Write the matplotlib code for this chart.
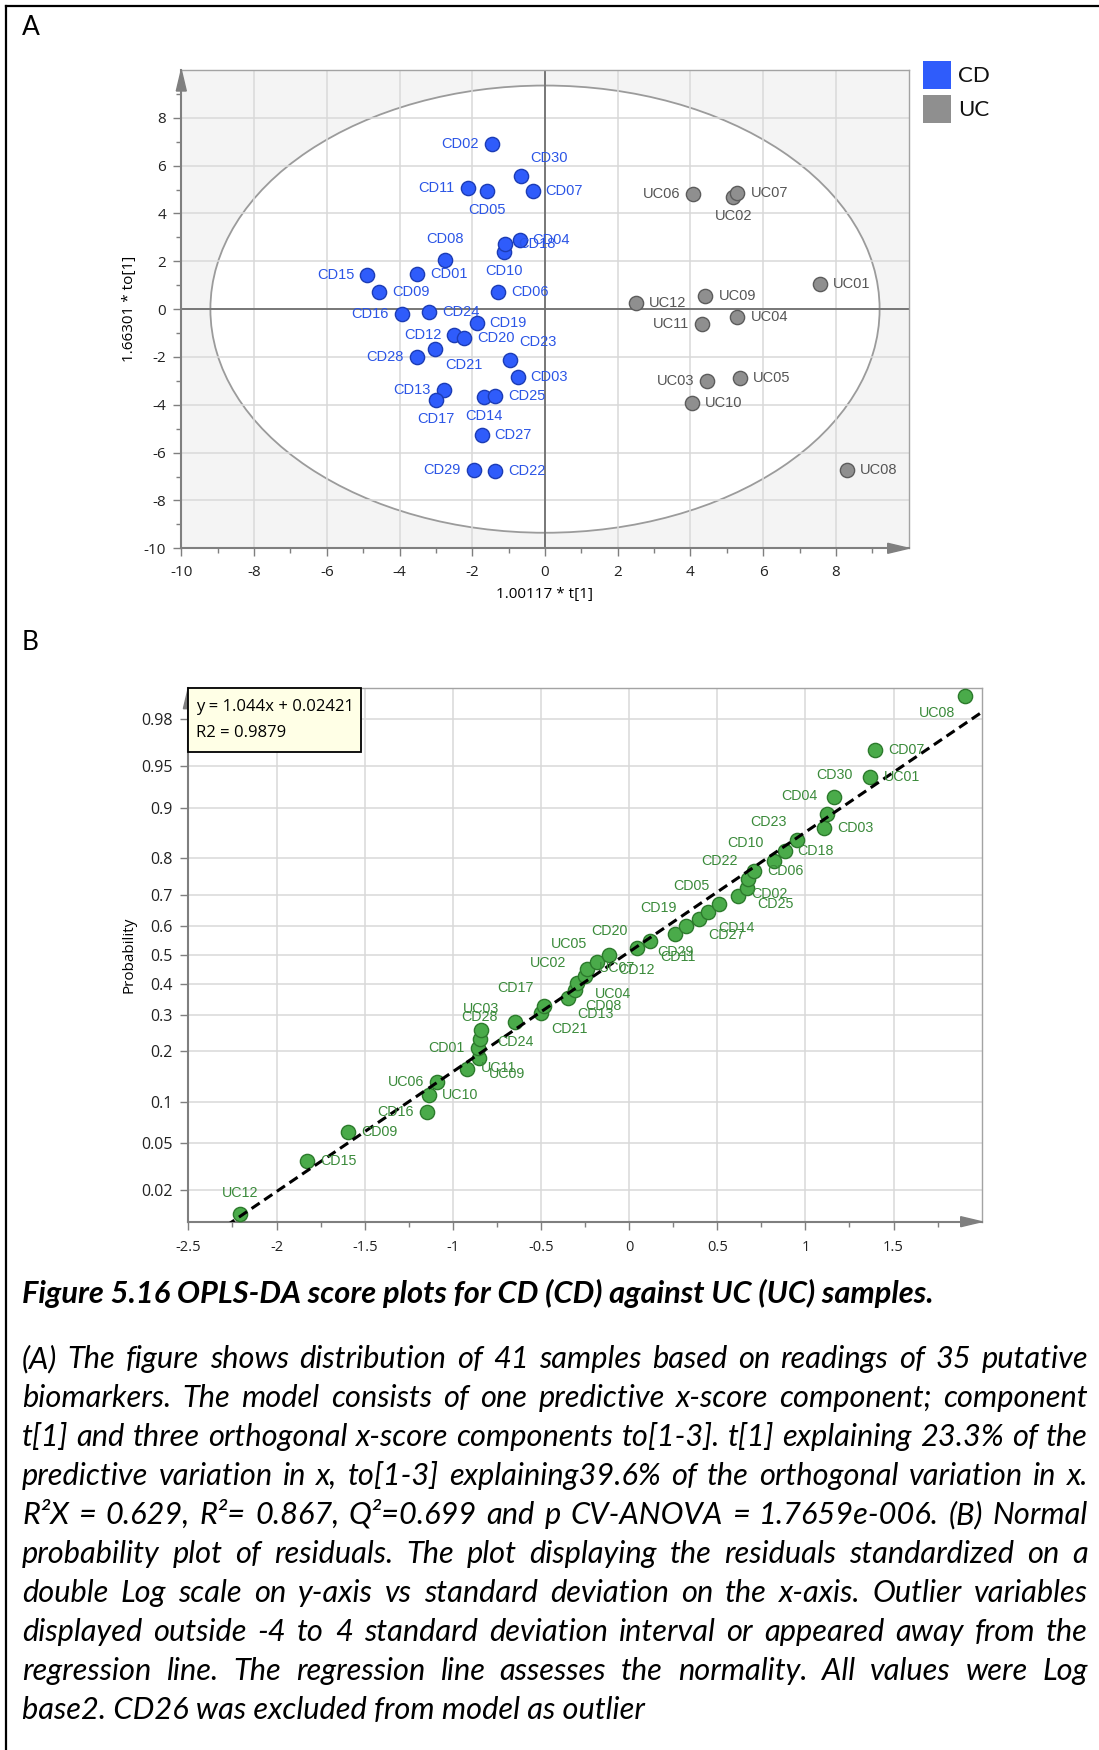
import math
import numpy as np
import matplotlib
matplotlib.use('Agg')
import matplotlib.pyplot as plt
from matplotlib import font_manager
from matplotlib.patches import Ellipse, Rectangle, Polygon
from matplotlib.lines import Line2D
from matplotlib.ticker import FixedLocator, NullLocator, FuncFormatter

# ---------------- panel A: OPLS-DA scores (t[1] vs to[1]) ----------------
cd_names = ['CD01', 'CD02', 'CD03', 'CD04', 'CD05', 'CD06', 'CD07', 'CD08', 'CD09', 'CD10',
            'CD11', 'CD12', 'CD13', 'CD14', 'CD15', 'CD16', 'CD17', 'CD18', 'CD19', 'CD20',
            'CD21', 'CD22', 'CD23', 'CD24', 'CD25', 'CD27', 'CD28', 'CD29', 'CD30']
cd_t = [-3.52, -1.46, -0.75, -0.70, -1.59, -1.28, -0.34, -2.75, -4.57, -1.13,
        -2.12, -2.49, -2.78, -1.67, -4.89, -3.94, -2.99, -1.09, -1.88, -2.23,
        -3.02, -1.38, -0.97, -3.19, -1.38, -1.74, -3.52, -1.96, -0.67]
cd_to = [1.48, 6.92, -2.82, 2.90, 4.94, 0.71, 4.95, 2.06, 0.71, 2.38,
         5.06, -1.08, -3.39, -3.66, 1.44, -0.21, -3.78, 2.72, -0.56, -1.21,
         -1.66, -6.78, -2.12, -0.10, -3.64, -5.25, -1.98, -6.72, 5.58]

uc_names = ['UC01', 'UC02', 'UC03', 'UC04', 'UC05', 'UC06', 'UC07', 'UC08', 'UC09', 'UC10',
            'UC11', 'UC12']
uc_t = [7.56, 5.18, 4.46, 5.29, 5.37, 4.08, 5.29, 8.30, 4.41, 4.05, 4.32, 2.51]
uc_to = [1.05, 4.69, -3.00, -0.31, -2.86, 4.82, 4.85, -6.72, 0.53, -3.91, -0.63, 0.25]

# ---------------- panel B: normal probability plot of residuals ----------------
b_names = ['UC12', 'CD15', 'CD09', 'CD16', 'UC10', 'UC06', 'UC09', 'UC11', 'CD01', 'CD28',
           'UC03', 'CD24', 'CD21', 'CD17', 'CD13', 'CD08', 'UC04', 'UC02', 'UC07', 'UC05',
           'CD20', 'CD12', 'CD11', 'CD29', 'CD19', 'CD27', 'CD14', 'CD05', 'CD25', 'CD02',
           'CD22', 'CD06', 'CD10', 'CD18', 'CD23', 'CD03', 'CD04', 'CD30', 'UC01', 'CD07',
           'UC08']
b_resid = [-2.209, -1.826, -1.596, -1.147, -1.137, -1.088, -0.918, -0.852, -0.860, -0.847,
           -0.841, -0.646, -0.500, -0.483, -0.349, -0.308, -0.295, -0.249, -0.241, -0.183,
           -0.114, 0.044, 0.120, 0.260, 0.325, 0.394, 0.450, 0.511, 0.615, 0.666,
           0.675, 0.710, 0.822, 0.882, 0.951, 1.105, 1.124, 1.163, 1.369, 1.394,
           1.904]
b_prob = [0.012, 0.036, 0.061, 0.085, 0.110, 0.134, 0.159, 0.183, 0.207, 0.232,
          0.256, 0.280, 0.305, 0.329, 0.354, 0.378, 0.402, 0.427, 0.451, 0.476,
          0.500, 0.524, 0.549, 0.573, 0.598, 0.622, 0.646, 0.671, 0.695, 0.720,
          0.744, 0.768, 0.793, 0.817, 0.841, 0.866, 0.890, 0.915, 0.939, 0.963,
          0.988]
fit_slope, fit_icpt, fit_r2 = 1.044, 0.02421, 0.9879
prob_ticks = [0.02, 0.05, 0.1, 0.2, 0.3, 0.4, 0.5, 0.6, 0.7, 0.8, 0.9, 0.95, 0.98]

title = 'Figure 5.16 OPLS-DA score plots for CD (CD) against UC (UC) samples.'
body_lines = [
    '(A) The figure shows distribution of 41 samples based on readings of 35 putative',
    'biomarkers. The model consists of one predictive x-score component; component',
    't[1] and three orthogonal x-score components to[1-3]. t[1] explaining 23.3% of the',
    'predictive variation in x, to[1-3] explaining39.6% of the orthogonal variation in x.',
    'R\u00b2X = 0.629, R\u00b2= 0.867, Q\u00b2=0.699 and p CV-ANOVA = 1.7659e-006. (B) Normal',
    'probability plot of residuals. The plot displaying the residuals standardized on a',
    'double Log scale on y-axis vs standard deviation on the x-axis. Outlier variables',
    'displayed outside -4 to 4 standard deviation interval or appeared away from the',
    'regression line. The regression line assesses the normality. All values were Log',
    'base2. CD26 was excluded from model as outlier',
]

# label placement (pixels: dx, dy downwards, alignment)
PRESET = {'r': (13, 0, 'left'), 'l': (-13, 0, 'right'), 't': (0, -21, 'center'),
          'b': (0, 19, 'center'), 'tr': (10, -18, 'left'), 'tl': (-10, -18, 'right'),
          'br': (10, 16, 'left'), 'bl': (-10, 17, 'right')}
pos_a = {'CD02': 'l', 'CD11': 'l', 'CD05': 'b', 'CD30': 'tr', 'CD07': 'r', 'CD08': 't',
         'CD15': 'l', 'CD01': 'r', 'CD09': 'r', 'CD06': 'r', 'CD10': 'b', 'CD18': 'r',
         'CD04': 'r', 'CD16': 'l', 'CD24': 'r', 'CD19': 'r', 'CD12': 'l', 'CD20': 'r',
         'CD21': 'br', 'CD28': 'l', 'CD23': 'tr', 'CD03': 'r', 'CD13': 'l', 'CD17': 'b',
         'CD14': 'b', 'CD25': 'r', 'CD27': 'r', 'CD29': 'l', 'CD22': 'r',
         'UC06': 'l', 'UC07': 'r', 'UC02': 'b', 'UC01': 'r', 'UC09': 'r', 'UC12': 'r',
         'UC04': 'r', 'UC11': 'l', 'UC03': 'l', 'UC05': 'r', 'UC10': 'r', 'UC08': 'r'}
pos_b = {'UC12': 't', 'CD15': 'r', 'CD09': 'r', 'CD16': 'l', 'UC10': 'r', 'UC06': 'l',
         'UC09': (22, 5, 'left'), 'UC11': (2, 10, 'left'), 'CD01': 'l',
         'CD28': (0, -22, 'center'), 'UC03': (0, -21, 'center'), 'CD24': (0, 20, 'center'),
         'CD21': 'br', 'CD17': 'tl', 'CD13': 'br', 'CD08': 'br', 'UC04': (18, 11, 'left'),
         'UC02': (-19, -13, 'right'), 'UC07': (12, -1, 'left'), 'UC05': 'tl',
         'CD20': (0, -24, 'center'), 'CD12': (0, 22, 'center'), 'CD11': 'br',
         'CD29': (0, 18, 'center'), 'CD19': 'tl', 'CD27': 'br', 'CD14': 'br', 'CD05': 'tl',
         'CD25': (20, 8, 'left'), 'CD02': (5, 6, 'left'), 'CD22': 'tl', 'CD06': 'r',
         'CD10': 'tl', 'CD18': 'r', 'CD23': 'tl', 'CD03': 'r', 'CD04': 'tl',
         'CD30': (0, -22, 'center'), 'UC01': 'r', 'CD07': 'r', 'UC08': 'bl'}

# fonts
available = {f.name for f in font_manager.fontManager.ttflist}


def pick(*names):
    for n in names:
        if n in available:
            return n
    return 'DejaVu Sans'


ui_font = pick('Open Sans', 'Noto Sans')
label_font = pick('Liberation Sans', 'DejaVu Sans')
cap_font = pick('Lato', 'Open Sans')
plt.rcParams['font.family'] = [ui_font, 'DejaVu Sans']
plt.rcParams['axes.unicode_minus'] = False

cd_fill, cd_edge, cd_text = '#2f5cfb', '#1c3cb5', '#2b55e6'
uc_fill, uc_edge, uc_text = '#8f8f8f', '#5c5c5c', '#555555'
g_fill, g_edge, g_text = '#4aab4a', '#2c7a2c', '#3a8a3a'
spine_col, box_col, grid_col = '#7f7f7f', '#a3a3a3', '#d9d9d9'

W, H = 1099.0, 1750.0
fig = plt.figure(figsize=(W / 100, H / 100), dpi=100)


def fx(px):
    return px / W


def fy(py):
    return 1 - py / H


def style_axes(ax, w_px, h_px):
    for s in ['left', 'bottom']:
        ax.spines[s].set_color(spine_col)
        ax.spines[s].set_linewidth(1.5)
    for s in ['top', 'right']:
        ax.spines[s].set_color(box_col)
        ax.spines[s].set_linewidth(1.0)
    ax.tick_params(which='major', direction='out', length=6, width=1, color=spine_col,
                   labelcolor='#222222')
    ax.tick_params(which='minor', direction='out', length=3.5, width=1, color=spine_col)
    L, hw = 21.0, 5.0
    up = Polygon([[-hw / w_px, 1 - L / h_px], [hw / w_px, 1 - L / h_px], [0, 1]], closed=True,
                 transform=ax.transAxes, clip_on=False, color=spine_col, zorder=6)
    rt = Polygon([[1 - L / w_px, -hw / h_px], [1 - L / w_px, hw / h_px], [1, 0]], closed=True,
                 transform=ax.transAxes, clip_on=False, color=spine_col, zorder=6)
    ax.add_patch(up)
    ax.add_patch(rt)


def put_labels(ax, names, xs, ys, placement, color, size):
    for n, x, y in zip(names, xs, ys):
        p = placement[n]
        dx, dy, ha = PRESET[p] if isinstance(p, str) else p
        ax.annotate(n, (x, y), xytext=(dx * 0.72, -dy * 0.72), textcoords='offset points',
                    ha=ha, va='center', fontsize=size, color=color, family=label_font, zorder=7)


# ---------------- panel A ----------------
a_l, a_r, a_t, a_b = 181.3, 908.7, 70.0, 548.3
ax = fig.add_axes([fx(a_l), fy(a_b), fx(a_r) - fx(a_l), fy(a_t) - fy(a_b)])
ax.set_xlim(-10, 10)
ax.set_ylim(-10, 10)
ax.set_facecolor('#f4f4f4')
ax.add_patch(Ellipse((0, 0), 18.4, 18.7, facecolor='white', edgecolor='#9b9b9b', lw=1.3,
                     zorder=0.1))
ax.xaxis.set_major_locator(FixedLocator(np.arange(-10, 9, 2)))
ax.xaxis.set_minor_locator(FixedLocator(np.arange(-10, 10, 1)))
ax.yaxis.set_major_locator(FixedLocator(np.arange(-10, 9, 2)))
ax.yaxis.set_minor_locator(FixedLocator(np.arange(-10, 10, 1)))
ax.set_axisbelow(True)
ax.grid(True, which='major', color=grid_col, lw=1.1)
ax.axhline(0, color='#6f6f6f', lw=1.3, zorder=0.6)
ax.axvline(0, color='#6f6f6f', lw=1.3, zorder=0.6)
style_axes(ax, a_r - a_l, a_b - a_t)
ax.tick_params(axis='both', labelsize=11)
ax.tick_params(axis='x', pad=6)
ax.tick_params(axis='y', pad=5)
ax.scatter(cd_t, cd_to, s=105, c=cd_fill, edgecolors=cd_edge, linewidths=1, zorder=3)
ax.scatter(uc_t, uc_to, s=105, c=uc_fill, edgecolors=uc_edge, linewidths=1, zorder=3)
put_labels(ax, cd_names, cd_t, cd_to, pos_a, cd_text, 10.5)
put_labels(ax, uc_names, uc_t, uc_to, pos_a, uc_text, 10.5)
ax.set_xlabel('1.00117 * t[1]', fontsize=11, va='center')
ax.xaxis.set_label_coords(0.5, -(594.7 - a_b) / (a_b - a_t))
ax.set_ylabel('1.66301 * to[1]', fontsize=11, va='center')
ax.yaxis.set_label_coords((129 - a_l) / (a_r - a_l), 0.5)

# legend
for i, (lab, col) in enumerate([('CD', cd_fill), ('UC', uc_fill)]):
    top = 61 + 34 * i
    fig.add_artist(Rectangle((fx(923), fy(top + 28)), 28 / W, 28 / H, transform=fig.transFigure,
                             facecolor=col, edgecolor='none'))
    fig.text(fx(958), fy(top + 15), lab, fontsize=16, va='center', ha='left', color='#111111',
             family=cap_font)

# ---------------- panel B ----------------
_erf = np.vectorize(math.erf, otypes=[float])


def norm_cdf(z):
    return 0.5 * (1 + _erf(np.asarray(z, dtype=float) / math.sqrt(2)))


def probit(p):
    p = np.clip(np.asarray(p, dtype=float), 1e-12, 1 - 1e-12)
    lo = np.full(p.shape, -9.0)
    hi = np.full(p.shape, 9.0)
    for _ in range(60):
        mid = (lo + hi) / 2
        below = norm_cdf(mid) < p
        lo = np.where(below, mid, lo)
        hi = np.where(below, hi, mid)
    return (lo + hi) / 2


b_l, b_r, b_t, b_b = 188.4, 981.7, 687.7, 1221.7
bx = fig.add_axes([fx(b_l), fy(b_b), fx(b_r) - fx(b_l), fy(b_t) - fy(b_b)])
bx.set_yscale('function', functions=(probit, norm_cdf))
bx.set_xlim(-2.5, 2.0)
bx.set_ylim(0.01, 0.99)
bx.xaxis.set_major_locator(FixedLocator(np.arange(-2.5, 1.6, 0.5)))
bx.xaxis.set_minor_locator(FixedLocator(np.arange(-2.5, 2.0, 0.25)))
bx.xaxis.set_major_formatter(FuncFormatter(lambda v, _: '%g' % round(v, 2)))
bx.yaxis.set_major_locator(FixedLocator(prob_ticks))
bx.yaxis.set_minor_locator(NullLocator())
bx.yaxis.set_major_formatter(FuncFormatter(lambda v, _: '%g' % round(v, 3)))
bx.set_axisbelow(True)
bx.grid(True, which='major', color=grid_col, lw=1.1)
style_axes(bx, b_r - b_l, b_b - b_t)
bx.tick_params(axis='x', labelsize=10.5, pad=7)
bx.tick_params(axis='y', labelsize=11.5, pad=5)
bx.scatter(b_resid, b_prob, s=105, c=g_fill, edgecolors=g_edge, linewidths=1, zorder=3)
xl = np.array(bx.get_xlim())
bx.plot(xl, norm_cdf(fit_slope * xl + fit_icpt), color='black', lw=2.2,
        linestyle=(0, (3.2, 1.8)), zorder=4)
put_labels(bx, b_names, b_resid, b_prob, pos_b, g_text, 10.3)
bx.set_ylabel('Probability', fontsize=11, va='center')
bx.yaxis.set_label_coords((129 - b_l) / (b_r - b_l), 0.5)

bw, bh = b_r - b_l, b_b - b_t
bx.add_patch(Rectangle((0, 1 - 64 / bh), 173 / bw, 64 / bh, transform=bx.transAxes,
                       facecolor='#ffffe6', edgecolor='black', lw=1.3, zorder=8, clip_on=False))
bx.text(8 / bw, 1 - 19.6 / bh, 'y = %.3fx + %.5f' % (fit_slope, fit_icpt), transform=bx.transAxes,
        fontsize=12, va='center', ha='left', zorder=9)
bx.text(8 / bw, 1 - 45.6 / bh, 'R2 = %.4f' % fit_r2, transform=bx.transAxes,
        fontsize=12, va='center', ha='left', zorder=9)

fig.text(fx(31), fy(27.5), 'A', fontsize=19, ha='center', va='center', family=cap_font)
fig.text(fx(30), fy(643), 'B', fontsize=19, ha='center', va='center', family=cap_font)

# frame lines of the original table cell
fig.add_artist(Line2D([fx(6), 1], [fy(6), fy(6)], transform=fig.transFigure, color='black', lw=1.6))
fig.add_artist(Line2D([fx(6), fx(6)], [fy(6), 0], transform=fig.transFigure, color='black', lw=1.6))

# ---------------- caption, justified ----------------
rend = fig.canvas.get_renderer()


def width_px(s, **kw):
    t = fig.text(0, 0, s, **kw)
    w = t.get_window_extent(renderer=rend).width
    t.remove()
    return w


cap_left, cap_right = 22.0, 1088.0
title_kw = dict(family=cap_font, style='italic', weight='bold')
t_size = min(23.0, 20.0 * 911 / width_px(title, fontsize=20, **title_kw))
fig.text(fx(cap_left), fy(1303), title, fontsize=t_size, va='baseline', ha='left', **title_kw)

body_kw = dict(family=cap_font, style='italic')
nat = [width_px(s, fontsize=20, **body_kw) for s in body_lines[:-1]]
size = min(22.5, 20.0 * (cap_right - cap_left) / max(nat) * 0.99)
for i, line in enumerate(body_lines):
    yb = fy(1368 + 39 * i)
    if i == len(body_lines) - 1:
        fig.text(fx(cap_left), yb, line, fontsize=size, va='baseline', ha='left', **body_kw)
        continue
    words = line.split(' ')
    ws = [width_px(w, fontsize=size, **body_kw) for w in words]
    gap = (cap_right - cap_left - sum(ws)) / (len(words) - 1)
    x = cap_left
    for w, wd in zip(words, ws):
        fig.text(fx(x), yb, w, fontsize=size, va='baseline', ha='left', **body_kw)
        x += wd + gap

fig.savefig('out.png', dpi=100)
